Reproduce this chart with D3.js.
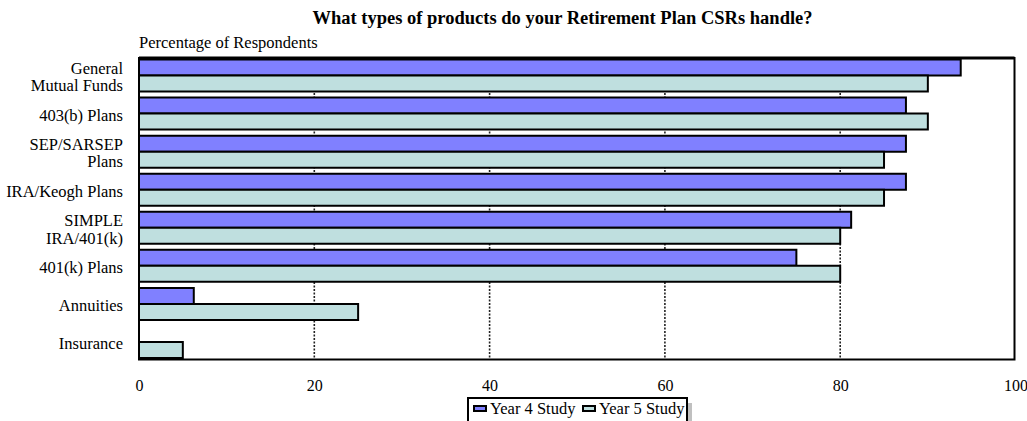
<!DOCTYPE html>
<html>
<head>
<meta charset="utf-8">
<script src="https://cdn.jsdelivr.net/npm/d3@7"></script>
<style>
  html, body { margin: 0; padding: 0; background: #fff; }
  svg { display: block; }
  text { font-family: "Liberation Serif", "Times New Roman", serif; fill: #000; }
</style>
</head>
<body>
<svg id="chart" width="1027" height="421"></svg>
<script>
// ---- data ----
const categories = [
  "General\nMutual Funds",
  "403(b) Plans",
  "SEP/SARSEP\nPlans",
  "IRA/Keogh Plans",
  "SIMPLE\nIRA/401(k)",
  "401(k) Plans",
  "Annuities",
  "Insurance"
];
const seriesNames = ["Year 4 Study", "Year 5 Study"];
const year4Values = [93.75, 87.5, 87.5, 87.5, 81.25, 75, 6.25, 0];
const year5Values = [90, 90, 85, 85, 80, 80, 25, 5];
const xTicks = [0, 20, 40, 60, 80, 100];
const gridTicks = [20, 40, 60, 80];
const titleText = "What types of products do your Retirement Plan CSRs handle?";
const axisTitleText = "Percentage of Respondents";
const seriesColors = ["#8080ff", "#bfdfdf"];

// ---- scales ----
const svg = d3.select("#chart");
const x = d3.scaleLinear().domain([0, 100]).range([139, 1015.5]);
const y = d3.scaleBand().domain(categories).range([59.5, 358]).paddingInner(6 / 38).paddingOuter(0);
const ySub = d3.scaleBand().domain(seriesNames).range([0, y.bandwidth()]);
const color = d3.scaleOrdinal().domain(seriesNames).range(seriesColors);

const rows = categories.map((c, i) => ({ cat: c, vals: [year4Values[i], year5Values[i]] }));

// title
svg.append("text")
  .attr("x", 562.5).attr("y", 24)
  .attr("text-anchor", "middle")
  .style("font-weight", "bold").style("font-size", "18.5px")
  .text(titleText);

svg.append("text")
  .attr("x", 139).attr("y", 48.3)
  .style("font-size", "16.5px")
  .text(axisTitleText);

// gridlines (behind bars)
svg.append("g").selectAll("line").data(gridTicks).join("line")
  .attr("x1", d => x(d)).attr("x2", d => x(d))
  .attr("y1", 58).attr("y2", 359.5)
  .attr("stroke", "#222").attr("stroke-width", 1.6)
  .attr("stroke-dasharray", "2,1.5");

// bars as paths so a zero-width bar still shows its edge
const groups = svg.append("g").selectAll("g").data(rows).join("g")
  .attr("transform", d => `translate(0,${y(d.cat)})`);
groups.selectAll("path").data(d => d.vals.map((v, j) => ({ v, s: seriesNames[j] }))).join("path")
  .attr("d", d => {
    const x0 = x(0), x1 = x(d.v), y0 = ySub(d.s), y1 = ySub(d.s) + ySub.bandwidth();
    return `M${x0},${y0}H${x1}V${y1}H${x0}Z`;
  })
  .attr("fill", d => color(d.s))
  .attr("stroke", "#000").attr("stroke-width", 2);

// frame
svg.append("rect")
  .attr("x", x(0)).attr("y", 58)
  .attr("width", x(100) - x(0) - 1).attr("height", 359.5 - 58)
  .attr("fill", "none").attr("stroke", "#000").attr("stroke-width", 2);
svg.append("line")
  .attr("x1", x(0)).attr("x2", x(100) - 1).attr("y1", 58).attr("y2", 58)
  .attr("stroke", "#000").attr("stroke-width", 3);

// x tick labels
const xAxis = d3.axisBottom(x).tickValues(xTicks).tickSize(0).tickFormat(d3.format("d"));
const gx = svg.append("g").attr("transform", "translate(0,390.7)").call(xAxis);
gx.select(".domain").remove();
gx.selectAll("text").attr("y", 0).attr("dy", 0)
  .style("font-size", "16px").style("font-family", "'Liberation Serif','Times New Roman',serif");

// category labels
const lineH = 17.5;
const labels = svg.append("g").selectAll("text").data(categories).join("text")
  .attr("text-anchor", "end")
  .style("font-size", "16.5px");
labels.each(function (d) {
  const lines = d.split("\n");
  const cy = y(d) + y.bandwidth() / 2 + 7;
  d3.select(this).selectAll("tspan").data(lines).join("tspan")
    .attr("x", 123)
    .attr("y", (l, i) => cy + (i - (lines.length - 1) / 2) * lineH)
    .text(l => l);
});

// legend
const legend = svg.append("g");
legend.append("rect").attr("x", 688).attr("y", 403).attr("width", 4).attr("height", 20).attr("fill", "#c0c0c0");
legend.append("rect").attr("x", 468).attr("y", 398).attr("width", 219).attr("height", 40)
  .attr("fill", "#fff").attr("stroke", "#000").attr("stroke-width", 2);
const legX = [474, 583];
const li = legend.selectAll("g.item").data(seriesNames).join("g").attr("class", "item")
  .attr("transform", (d, i) => `translate(${legX[i]},0)`);
li.append("rect").attr("x", 0).attr("y", 406).attr("width", 12).attr("height", 5)
  .attr("fill", d => color(d)).attr("stroke", "#000").attr("stroke-width", 2);
li.append("text").attr("x", 16).attr("y", 414).style("font-size", "16.5px").text(d => d);
</script>
</body>
</html>
